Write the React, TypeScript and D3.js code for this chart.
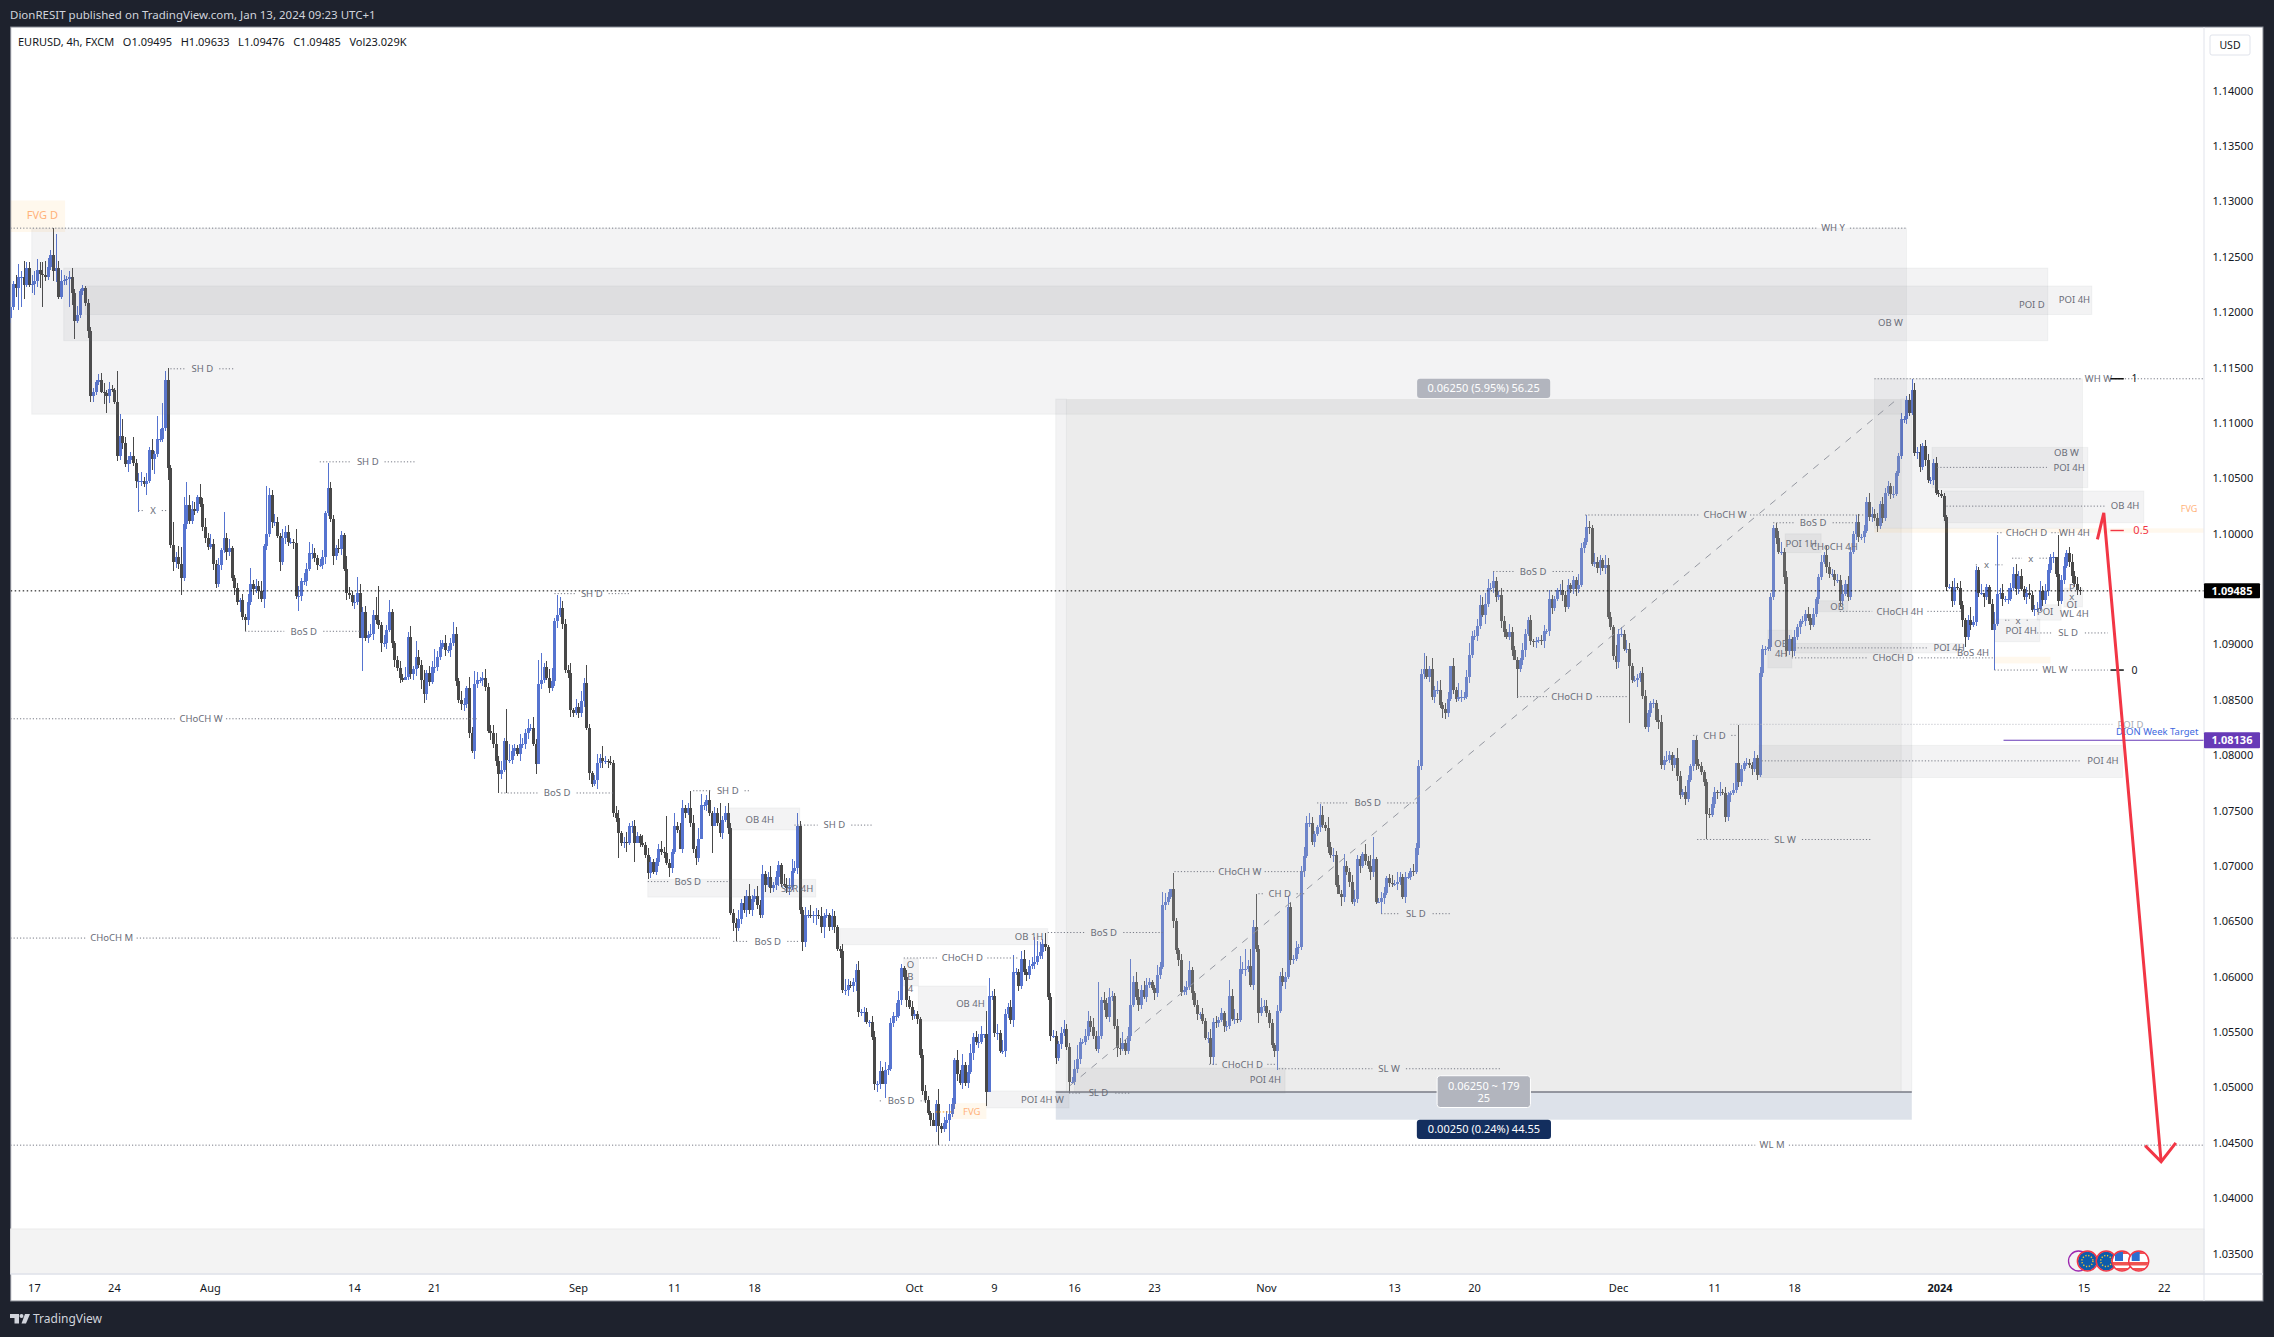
import * as d3 from "d3";

// all prices are pips above 1.0000 (1.0948 -> 948), one value per 4h bar
const closesJul = [1205,1226,1222,1232,1232,1225,1240,1225,1226,1228,1238,1235,1234,1232,1241,1252,1237,1240,1214,1228,1229,1230,1232,1217,1192,1198,1219,1222,1208,1183,1124,1128,1137,1139,1128,1127,1124,1131,1130,1119,1070,1088,1082,1063,1067,1070,1064,1048,1048,1048,1045,1048,1076,1068,1072,1086,1086,1096,1139,1059,990,975,979,973,960,1009,1026,1012,1022,1021,1033,1027,1006,996,988];
const closesAug = [991,973,955,972,985,996,984,987,960,951,938,940,925,922,938,955,950,953,948,941,989,1000,1035,1011,1011,998,975,996,1002,993,993,992,944,944,957,957,968,983,983,978,972,972,979,1019,1041,1013,980,987,986,999,968,947,945,938,938,947,906,929,906,909,910,927,922,918,901,901,913,929,901,886,879,870,868,871,907,873,878,889,882,868,855,874,866,880,880,889,898,901,895,895,901,910,867,850,846,846,861,820,804,864,868,868,870,862,822,820,810,795,783,787,813,796,796,804,807,801,810,810,820,825,825,810,792,864,868,880,870,861,867,921,927,933,919,877,874,841,838,844];
const closesSep = [838,849,865,825,784,774,778,793,798,795,795,794,793,748,743,730,721,722,721,736,736,721,727,721,719,710,694,704,695,704,715,713,712,703,698,713,736,733,715,752,748,752,739,715,707,724,755,755,760,748,736,748,739,730,742,748,734,658,649,644,652,667,660,673,660,670,673,665,656,693,683,690,680,683,690,701,684,683,680,681,696,698,736,660,631,656,656,655,656,656,655,645,655,656,645,655,645,625,623,588,588,593,592,595,606,568,568,568,559,559,546,503,503,515,503,516,517,558,565,565,579,608,600,579,573,565];
const closesOct = [566,562,529,497,489,477,471,465,485,465,463,468,471,476,485,525,512,504,520,504,514,531,546,541,541,548,548,496,583,583,549,549,533,533,566,573,561,604,604,592,616,604,602,610,612,613,619,622,630,627,582,547,547,527,539,549,553,537,505,505,517,526,541,541,547,560,555,547,535,547,579,576,564,582,583,556,536,535,540,533,547,575,595,582,575,588,582,593,595,590,585,602,609,665,668,672,679,650,624,615,586,588,591,606,585,575,566,566,560,545,545,528,559,558,561,567,556,556,583,562,562,561,607,607,607,610,593,645,625,567,573,574];
const closesNov = [567,558,538,533,569,601,595,600,663,615,616,626,627,696,709,739,739,722,729,735,746,737,734,717,710,710,683,675,672,700,695,686,668,670,706,700,711,705,700,695,706,668,668,671,676,689,685,684,684,686,690,672,690,690,696,695,716,790,873,878,871,878,853,859,859,845,842,838,851,881,859,851,853,853,853,871,891,908,908,917,936,927,937,951,951,957,943,945,921,911,907,911,895,886,878,886,895,910,922,903,902,903,904,903,912,912,941,933,941,949,949,945,934,954,950,958,950,954,987,993,1006,1005,973,975,969,976,969,972,925,916,890,884];
const closesDec = [910,910,896,896,881,868,868,870,874,854,826,838,847,847,832,830,791,796,796,800,791,798,781,764,767,761,778,790,814,792,790,785,776,747,746,756,767,766,767,766,744,764,766,769,793,776,788,793,793,791,788,798,782,874,896,896,898,943,1005,996,984,984,961,894,905,894,907,916,921,921,928,924,918,928,941,961,975,981,970,964,964,958,958,939,946,955,943,984,1000,1011,997,997,1003,1029,1015,1018,1014,1007,1027,1014,1037,1043,1036,1036,1055,1070,1104,1104,1121,1109,1130,1073,1074,1060,1079,1067,1049,1049,1064,1037,1036];
const closesJan = [1034,1015,952,952,939,952,951,936,922,907,922,918,920,967,947,947,943,952,937,913,919,946,947,941,941,941,951,964,950,962,950,943,947,945,931,932,932,948,940,948,967,979,979,964,939,958,971,983,975,962,955,949,948.5];

const wickUpJul = [5,2,8,12,5,14,5,5,8,9,10,7,10,12,8,4,0,0,6,10,5,3,5,8,4,8,2,3,2,4,4,4,2,5,6,8,3,6,3,2,28,20,16,5,3,4,17,4,7,8,3,7,2,10,3,20,9,22,8,0,3,21,5,10,15,24,21,9,8,7,2,12,5,8,5];
const wickUpAug = [9,4,3,6,2,22,5,8,2,3,5,2,6,3,8,14,3,6,4,9,2,10,6,5,7,4,3,8,5,6,3,2,12,9,3,8,6,10,8,4,3,5,6,2,0,6,4,3,8,4,2,12,5,3,7,14,8,5,6,3,9,4,16,7,2,8,5,11,3,2,4,6,3,9,4,10,3,14,6,4,9,3,7,5,16,5,6,3,8,4,5,10,6,3,8,6,2,10,6,12,7,3,5,8,3,5,7,10,4,8,3,6,14,5,3,2,9,6,4,8,3,10,5,22,4,3,5,8,12,3,0,10,6,4,5,9,2,7];
const wickUpSep = [3,9,5,6,3,2,4,8,3,10,4,2,5,3,6,8,2,4,9,3,5,6,4,2,7,3,6,4,2,3,5,8,4,6,3,2,12,4,6,8,3,5,2,7,3,10,6,3,4,9,2,5,4,18,3,6,9,5,3,4,8,3,6,5,11,4,6,9,4,8,3,5,10,3,6,4,2,9,6,8,10,7,12,5,3,7,4,9,3,6,4,8,3,5,2,6,4,2,3,7,10,5,3,4,6,8,3,5,4,2,6,5,3,9,4,7,3,5,3,11,8,4,2,6,4,5];
const wickUpOct = [4,3,2,6,5,3,2,6,4,14,3,5,8,9,6,2,9,4,10,3,6,8,3,5,7,8,0,0,0,4,6,8,3,10,5,3,6,16,4,3,7,8,3,5,6,5,13,9,4,0,2,3,5,4,3,6,8,4,3,5,8,12,4,3,6,9,5,8,4,18,3,7,5,8,4,2,6,9,10,3,8,14,6,9,7,5,8,6,4,2,3,9,4,12,8,5,0,5,3,2,6,4,5,8,3,2,4,2,6,3,5,8,4,6,3,5,2,4,10,6,9,5,12,6,4,5,15,6,2,4,8,5];
const wickUpNov = [5,3,4,2,6,3,7,4,10,5,4,6,3,4,8,6,9,5,3,2,0,8,3,10,5,6,4,9,3,11,5,3,6,8,4,3,2,9,4,10,3,2,3,6,5,2,4,7,3,9,5,3,5,4,2,6,5,6,5,14,12,3,10,4,8,9,3,5,6,0,7,3,12,6,4,6,10,4,5,6,9,7,10,8,5,0,4,3,6,5,3,8,5,4,3,2,6,4,3,5,2,4,3,5,6,2,8,4,3,2,6,9,3,5,2,4,3,10,5,3,0,6,3,8,4,5,2,9,6,4,2,10];
const wickUpDec = [4,6,3,8,5,2,4,3,2,6,5,3,2,4,3,10,6,3,8,4,3,2,9,5,3,5,4,2,0,3,5,4,2,3,5,6,4,2,9,3,5,3,2,6,0,4,3,2,5,4,3,6,2,6,4,3,7,4,3,5,7,9,3,5,4,2,6,3,2,5,3,6,4,5,2,3,6,3,8,5,4,3,6,5,8,3,7,4,3,6,7,3,5,4,8,6,4,5,3,6,4,5,3,7,2,3,5,2,3,5,0,6,4,7,3,6,5,2,4,5,3];
const wickUpJan = [4,3,2,3,5,8,4,6,3,2,5,12,6,4,3,8,0,3,2,4,10,0,4,8,3,10,5,6,9,4,6,3,5,8,3,4,6,9,5,7,6,3,5,0,3,5,8,2,5,7,4,6,3];

const wickDnJul = [5,3,8,20,27,13,2,2,8,10,5,13,29,4,3,3,9,10,2,2,3,4,25,10,16,2,3,3,2,6,5,5,3,3,1,10,15,6,2,2,4,3,5,3,7,4,3,7,0,5,3,10,2,10,14,3,3,3,3,10,3,9,6,5,15,3,5,3,3,4,2,3,3,4,3];
const wickDnAug = [2,6,4,3,5,2,8,4,3,6,2,9,3,0,4,2,5,3,7,3,8,4,3,6,4,2,9,3,5,4,2,6,3,0,5,3,4,2,6,3,5,2,4,6,3,2,8,4,3,5,2,7,4,3,6,2,0,4,3,5,2,6,3,4,8,3,5,2,4,6,3,5,2,0,3,4,5,6,3,8,0,5,3,2,6,4,3,2,5,3,6,2,4,3,5,6,3,4,2,7,3,3,5,4,2,6,3,5,0,4,2,0,3,4,5,2,6,3,4,5,3,2,7,0,4,3,2,5,3,4,6,2,5,3,4,6,3,2];
const wickDnSep = [4,3,5,2,6,3,2,8,4,6,3,5,2,4,3,0,3,5,8,2,6,3,0,4,2,3,6,5,2,3,4,3,5,2,8,4,2,3,0,3,5,2,4,3,6,3,0,4,5,3,2,0,3,4,6,2,5,2,8,12,3,4,2,6,3,5,2,4,3,3,6,2,4,3,5,8,3,2,4,6,3,2,5,3,8,4,3,2,6,9,3,5,10,2,4,3,5,2,6,3,4,5,2,6,8,4,3,9,2,4,3,5,0,4,0,3,5,2,3,5,2,4,3,6,2,4];
const wickDnOct = [3,5,2,4,3,2,6,0,5,0,4,3,5,2,3,4,6,2,5,3,4,2,6,3,5,2,3,0,0,4,3,6,2,3,5,3,4,6,2,5,3,2,6,4,3,5,2,3,6,4,3,5,2,6,3,4,2,3,5,0,3,4,5,2,3,4,5,3,2,4,3,6,2,5,4,3,8,6,2,4,3,5,2,3,6,4,2,5,3,2,6,3,4,2,5,3,2,6,3,5,3,2,4,3,6,2,5,4,3,2,5,0,0,4,3,2,6,5,3,2,5,3,2,4,6,3,2,5,3,6,2,4];
const wickDnNov = [3,4,2,5,0,2,3,6,2,4,3,2,5,3,6,2,4,3,5,2,4,3,2,5,3,6,2,0,8,4,3,5,2,4,3,6,2,4,3,8,5,2,0,3,5,2,4,3,2,6,3,2,5,2,3,4,2,6,3,4,2,5,3,6,4,2,8,5,3,2,4,3,2,5,3,2,6,3,4,5,3,2,8,3,2,4,5,3,6,4,2,3,5,0,0,3,4,6,2,3,4,5,2,3,6,2,4,5,3,2,4,6,5,2,3,4,6,3,2,4,3,5,2,3,4,6,3,5,2,3,4,6];
const wickDnDec = [5,3,2,4,0,3,2,6,4,3,2,5,3,4,2,6,3,4,2,3,5,2,4,3,2,6,3,2,4,5,2,3,4,0,3,2,4,5,3,2,4,3,6,2,3,5,4,2,3,2,6,3,4,2,3,5,2,4,3,5,2,3,6,4,3,5,4,3,6,2,4,3,5,2,3,4,3,2,5,4,3,5,2,4,3,2,4,3,2,6,4,3,5,2,3,4,2,5,3,4,2,3,5,4,2,3,2,4,5,3,2,3,5,4,2,6,3,4,5,2,3];
const wickDnJan = [2,3,4,2,5,3,2,4,6,0,3,5,2,3,4,2,6,3,0,0,3,2,5,6,3,4,2,3,5,4,2,3,6,4,2,5,3,2,5,3,4,2,5,3,4,2,3,2,5,6,3,4,4];

// tall wicks that stand out in the picture: [bar, price]
const longHighs = [[16,1276],[17,1271],[59,1150],[65,1033],[66,1047],[80,1020],[96,1043],[119,1064],[138,953],[186,842],[199,892],[205,945],[216,882],[246,745],[252,760],[255,768],[259,765],[366,569],[367,599],[384,636],[388,640],[408,595],[420,616],[436,694],[457,597],[463,625],[467,675],[491,756],[511,726],[556,966],[591,1017],[648,827],[713,1140],[745,999],[768,999]];
const longLows = [[48,1020],[64,945],[88,912],[108,930],[132,876],[155,847],[183,766],[186,766],[197,783],[228,707],[234,704],[263,712],[272,632],[325,496],[328,491],[348,448],[352,452],[366,483],[397,495],[450,521],[451,520],[468,558],[475,516],[514,657],[565,852],[607,829],[636,724],[733,898],[740,934],[744,877]];

const tickPrices = [1.14,1.135,1.13,1.125,1.12,1.115,1.11,1.105,1.1,1.095,1.09,1.085,1.08,1.075,1.07,1.065,1.06,1.055,1.05,1.045,1.04,1.035];
const timeTicks: [string, number, boolean][] = [["17",9,false],["24",39,false],["Aug",75,false],["14",129,false],["21",159,false],["Sep",213,false],["11",249,false],["18",279,false],["Oct",339,false],["9",369,false],["16",399,false],["23",429,false],["Nov",471,false],["13",519,false],["20",549,false],["Dec",603,false],["11",639,false],["18",669,false],["2024",723.6,true],["15",777.6,false],["22",807.7,false]];

// [bar from, bar to, price top, price bottom, tone]
const zones: [number, number, number, number, string][] = [
  [0,20.5,1301,1272.5,"orange"],[8,711,1276,1108,"light"],[20,764,1240,1174.4,"light"],[28,780.5,1223.8,1198,"light"],
  [396,709,1121.7,496,"range"],[392,396,1121.7,496,"light"],[709,713,1121.7,496,"light"],[392,713,496,471,"blue"],
  [269,296,752.5,732.6,"light"],[239,302,688,672,"light"],[311,389,643.5,629,"light"],[335,340.5,616.4,591.7,"light"],[340.5,366,591.7,560,"light"],
  [353,366,486,471.6,"orange"],[366,397,497,481.6,"light"],[399,478,517.7,495,"light"],[655.7,792,809,780,"light"],
  [677.5,689,939.6,929.7,"light"],[665.5,679,1000,983,"light"],[659,668,913,879,"light"],[669,732.5,901,892.4,"light"],
  [720.6,779,1078,1041.7,"light"],[725,800,1038.7,1010,"light"],[699,777,1140,1005,"light"],[699,822.5,1005,1001,"orange"],
  [744,761,923,902.6,"light"],[760,769,936,922,"light"],[770,777,951,934,"light"],[744,765,889,883,"orange"],
];

// [label, bar from, bar to, price, bar of the label]
const levels: [string, number, number, number, number][] = [
  ["WH Y",0,711,1276,683.5],["WL M",0,822.5,448,660.6],["CHoCH W",0,175,833,71.5],["CHoCH M",0,266,635,38],
  ["SH D",60,84,1149,72],["SH D",116,152,1065,134],["X",48,59,1021,53.5],["BoS D",88,131,912,110],["SH D",204,232,946,218],
  ["BoS D",184,226,766,205],["SH D",256,277,768,269],["SH D",294,323,737,309],["BoS D",239,269,686,254],["BoS D",271,296,632,284],
  ["BoS D",389,432,640,410],["CHoCH D",335,378,617,357],["BoS D",326,343,488,334],["SL D",397,420,495,408],["CHoCH D",449.5,475,521,462],
  ["SL W",475.6,559,517,517],["CHoCH W",436.5,485.5,695,461],["CH D",468,485.5,675,476],["BoS D",490,527.5,757,509],["SL D",514,540,657,527],
  ["BoS D",556,586,966,571],["CHoCH D",565,606.5,853,585.5],["CHoCH W",590.5,695.5,1017,643],["BoS D",661,692,1010,676],["CH D",631,647,818,639],
  ["SL W",632.5,698,724,665.5],["CHoCH 4H",686,731.5,930,708.5],["POI 4H",669,720,897,727],["CHoCH D",668,744,888,706],["POI 4H",722.5,764,1060,772],
  ["OB 4H",726,787,1025,793],["WH W",699,822.5,1140,783],["CHoCH D",745,768,1001,756],["x",737,747,972,741],["x",750.6,765,978,757.6],["x",748,757,922,752.8],
  ["SL D",760,786.5,910.5,771.6],["WL W",744,786.5,877,766.7],["POI 4H",656.7,778,795,784.7],
];

// [label, bar, price]
const notes: [string, number, number][] = [
  ["OB 4H",281,742],["SBR 4H",295,680],["OB 1H",382,636],["O",337.5,611],["B",337.5,600],["4",337.5,589],["OB 4H",360,576],["POI 4H W",387,489],["POI 4H",470.6,507],
  ["POI D",758,1207],["POI 4H",774,1211],["OB W",705,1191],["OB W",771,1073],["OB",685,934],["POI 1H",671.5,991],["OB",664,900.5],["4H",664,891.5],
  ["CHoCH 4H",684,988],["BoS 4H",736,893],["WH 4H",774,1001],["WL 4H",774,928],["POI",763,930],["POI 4H",754,913],["P",773,951],["x",773,943],["OI",773,936],
];

const measureLabels: [string, string, number, number, number, number, string][] = [
  ["0.06250 (5.95%) 56.25","",527.5,577.4,1140,1122.6,"#b2b5be"],
  ["0.06250 ~ 179","25",535,570,510.7,482,"#b2b5be"],
  ["0.00250 (0.24%) 44.55","",527.4,577.7,471,453.6,"#132e5e"],
];

const trendLine: [number, number][] = [[397.3,501.7],[708,1122.6]];
const redArrow: [number, number][] = [[782.6,995],[785,1019],[806.5,433]];
const redHead: [number, number][] = [[800.5,447.6],[806.5,433],[812,450]];
const eventIcons: [number, string][] = [[2078.5,"moon"],[2087.4,"eu"],[2106.2,"eu"],[2122,"us"],[2138.7,"us"]];

const W = 2274;
const H = 1337;
const left = 10.7;
const top = 27;
const axisX = 2204;
const rightEdge = 2263;
const timeY = 1274;
const bottom = 1301;
const font = '"Noto Sans", sans-serif';

const closes = [...closesJul, ...closesAug, ...closesSep, ...closesOct, ...closesNov, ...closesDec, ...closesJan];
const wickUp = [...wickUpJul, ...wickUpAug, ...wickUpSep, ...wickUpOct, ...wickUpNov, ...wickUpDec, ...wickUpJan];
const wickDn = [...wickDnJul, ...wickDnAug, ...wickDnSep, ...wickDnOct, ...wickDnNov, ...wickDnDec, ...wickDnJan];
const highMap = new Map(longHighs.map((d) => [d[0], d[1]]));
const lowMap = new Map(longLows.map((d) => [d[0], d[1]]));

const candles = closes.map((c, i) => {
  const o = i > 0 ? closes[i - 1] : 1195;
  const high = highMap.get(i) ?? Math.max(o, c) + (wickUp[i] ?? 0);
  const low = lowMap.get(i) ?? Math.min(o, c) - (wickDn[i] ?? 0);
  return { i, o, c, high: Math.max(high, o, c), low: Math.min(low, o, c) };
});

const x = d3.scaleLinear().domain([0, 776]).range([10.4, 2079.8]);
const yPrice = d3.scaleLinear().domain([1.115, 1.035]).range([367.7, 1253.7]);
const y = (pip: number) => yPrice(1 + pip / 10000);
const pathLine = d3.line<[number, number]>().x((d) => x(d[0])).y((d) => y(d[1]));

const zoneStyle: Record<string, { fill: string; stroke: string }> = {
  light: { fill: "rgba(120,123,134,0.09)", stroke: "rgba(120,123,134,0.07)" },
  orange: { fill: "rgba(255,152,0,0.07)", stroke: "none" },
  range: { fill: "rgba(178,178,178,0.25)", stroke: "none" },
  blue: { fill: "rgba(41,72,122,0.16)", stroke: "none" },
};

function Label({ t, px, py, fill = "#6a6d78", size = 9.5 }: { t: string; px: number; py: number; fill?: string; size?: number }) {
  return (
    <text x={px} y={py} dy="0.35em" textAnchor="middle" fontSize={size} fontFamily={font} fill={fill}>
      {t}
    </text>
  );
}

function Flag({ cx, kind, id }: { cx: number; kind: string; id: string }) {
  const cy = 1261;
  if (kind === "moon") {
    return <circle cx={cx} cy={cy} r={10} fill="none" stroke="#9c27b0" strokeWidth={1.3} />;
  }
  return (
    <g>
      <clipPath id={id}>
        <circle cx={cx} cy={cy} r={9.5} />
      </clipPath>
      {kind === "eu" ? (
        <g>
          <circle cx={cx} cy={cy} r={9.5} fill="#0d5cab" />
          <circle cx={cx} cy={cy} r={5.5} fill="none" stroke="#f7c62f" strokeWidth={1.4} strokeDasharray="1.2 1.7" />
        </g>
      ) : (
        <g clipPath={`url(#${id})`}>
          <rect x={cx - 10} y={cy - 10} width={20} height={20} fill="#fff" />
          <rect x={cx - 10} y={cy + 1} width={20} height={3.5} fill="#f0524f" />
          <rect x={cx - 10} y={cy + 7} width={20} height={3.5} fill="#f0524f" />
          <rect x={cx - 10} y={cy - 10} width={20} height={3} fill="#f0524f" />
          <rect x={cx - 7} y={cy - 10} width={8} height={10} fill="#2a6fd0" />
        </g>
      )}
      <circle cx={cx} cy={cy} r={10} fill="none" stroke="#f23645" strokeWidth={1.5} />
    </g>
  );
}

export default function App() {
  return (
    <svg width={W} height={H} viewBox={`0 0 ${W} ${H}`} style={{ position: "absolute", left: 0, top: 0, display: "block" }}>
      <rect width={W} height={H} fill="#1e222d" />
      <text x={10} y={15} dy="0.35em" fontSize={11.5} fontFamily={font} fill="#d1d4dc">
        DionRESIT published on TradingView.com, Jan 13, 2024 09:23 UTC+1
      </text>
      <rect x={left} y={top} width={rightEdge - left} height={bottom - top} fill="#fff" stroke="#868993" />
      <clipPath id="plot">
        <rect x={left} y={top} width={axisX - left} height={timeY - top} />
      </clipPath>
      <rect x={left} y={1229} width={axisX - left} height={timeY - 1229} fill="#f3f3f3" stroke="#ebebeb" />

      <g clipPath="url(#plot)">
        <g shapeRendering="crispEdges">
          {candles.map((d) => {
            const up = d.c >= d.o;
            const col = up ? "#5674d0" : "#484848";
            const yt = y(Math.max(d.o, d.c));
            const yb = y(Math.min(d.o, d.c));
            const cx = Math.round(x(d.i));
            return (
              <g key={d.i} fill={col}>
                <rect x={cx} y={y(d.high)} width={1} height={Math.max(1, y(d.low) - y(d.high))} />
                <rect x={cx - 1} y={yt} width={3} height={Math.max(1, yb - yt)} />
              </g>
            );
          })}
        </g>

        {zones.map((z, i) => (
          <rect
            key={i}
            x={x(z[0])}
            y={y(z[2])}
            width={x(z[1]) - x(z[0])}
            height={y(z[3]) - y(z[2])}
            fill={zoneStyle[z[4]].fill}
            stroke={zoneStyle[z[4]].stroke}
          />
        ))}
        <line x1={x(392)} x2={x(713)} y1={y(496)} y2={y(496)} stroke="#787b86" strokeWidth={1.5} />
        <path d={pathLine(trendLine) || ""} fill="none" stroke="#9598a1" strokeWidth={1} strokeDasharray="7 7" />

        <line x1={left} x2={axisX} y1={y(948.5)} y2={y(948.5)} stroke="#000" strokeDasharray="1.5 2.5" />
        <line x1={x(645)} x2={x(789)} y1={y(828)} y2={y(828)} stroke="#b2b5be" strokeDasharray="1 2" />
        <line x1={x(747.4)} x2={axisX} y1={y(813.6)} y2={y(813.6)} stroke="#673ab7" strokeWidth={1.2} />

        {levels.map((l, i) => {
          const lx = x(l[4]);
          const gap = l[0].length * 2.7 + 6;
          const x0 = x(l[1]);
          const x1 = x(l[2]);
          const py = y(l[3]);
          return (
            <g key={i}>
              <line x1={x0} x2={Math.min(x1, lx - gap)} y1={py} y2={py} stroke="#787b86" strokeDasharray="1.2 2" />
              {lx + gap < x1 && <line x1={lx + gap} x2={x1} y1={py} y2={py} stroke="#787b86" strokeDasharray="1.2 2" />}
              <Label t={l[0]} px={lx} py={py} />
            </g>
          );
        })}
        {notes.map((n, i) => (
          <Label key={i} t={n[0]} px={x(n[1])} py={y(n[2])} />
        ))}

        <Label t="FVG D" px={x(12)} py={y(1288)} fill="#ffb27a" size={11} />
        <Label t="FVG" px={x(360.5)} py={y(478)} fill="#ffb27a" />
        <Label t="FVG" px={x(817)} py={y(1023)} fill="#ffb27a" size={9} />
        <line x1={x(347)} x2={x(353)} y1={y(478)} y2={y(478)} stroke="#ff9800" strokeDasharray="1.5 2" />
        <Label t="POI D" px={x(795)} py={y(828)} fill="#a8abb4" />
        <Label t="DION Week Target" px={x(805)} py={y(821)} fill="#3d68e0" />

        <line x1={x(787.5)} x2={x(792.5)} y1={y(1140)} y2={y(1140)} stroke="#000" strokeWidth={1.4} />
        <line x1={x(787.5)} x2={x(792.5)} y1={y(877)} y2={y(877)} stroke="#000" strokeWidth={1.4} />
        <line x1={x(787.5)} x2={x(792.5)} y1={y(1003)} y2={y(1003)} stroke="#f23645" strokeWidth={1.4} />
        <Label t="1" px={x(796.5)} py={y(1140)} fill="#131722" size={10.5} />
        <Label t="0" px={x(796.5)} py={y(877)} fill="#131722" size={10.5} />
        <Label t="0.5" px={x(799)} py={y(1003)} fill="#f23645" size={11} />

        <path d={pathLine(redArrow) || ""} fill="none" stroke="#f23645" strokeWidth={3} strokeLinejoin="miter" />
        <path d={pathLine(redHead) || ""} fill="none" stroke="#f23645" strokeWidth={3} strokeLinejoin="miter" />

        {measureLabels.map((m, i) => (
          <g key={i}>
            <rect
              x={x(m[2])}
              y={y(m[4])}
              width={x(m[3]) - x(m[2])}
              height={y(m[5]) - y(m[4])}
              rx={3}
              fill={m[6]}
              stroke={m[1] ? "#fff" : "none"}
            />
            <text
              x={(x(m[2]) + x(m[3])) / 2}
              y={m[1] ? y(m[4]) + 10 : (y(m[4]) + y(m[5])) / 2}
              dy="0.35em"
              textAnchor="middle"
              fontSize={11}
              fontFamily={font}
              fill="#fff"
            >
              {m[0]}
            </text>
            {m[1] && (
              <text x={(x(m[2]) + x(m[3])) / 2} y={y(m[4]) + 22} dy="0.35em" textAnchor="middle" fontSize={11} fontFamily={font} fill="#fff">
                {m[1]}
              </text>
            )}
          </g>
        ))}

        {eventIcons.map((e, i) => (
          <Flag key={i} cx={e[0]} kind={e[1]} id={`flag${i}`} />
        ))}
      </g>

      <line x1={left} x2={rightEdge} y1={timeY} y2={timeY} stroke="#e0e3eb" strokeWidth={1.5} />
      <line x1={axisX} x2={axisX} y1={top} y2={bottom} stroke="#e0e3eb" />

      <text x={18} y={42} dy="0.35em" fontSize={11} fontFamily={font} fill="#131722" xmlSpace="preserve">
        {"EURUSD, 4h, FXCM   O1.09495   H1.09633   L1.09476   C1.09485   Vol23.029K"}
      </text>

      <rect x={2210} y={35} width={40} height={20} rx={2} fill="#fff" stroke="#e0e3eb" />
      <Label t="USD" px={2230} py={45} fill="#131722" size={10.5} />

      {tickPrices.map((p) => (
        <text key={p} x={2212.5} y={yPrice(p)} dy="0.35em" fontSize={11} fontFamily={font} fill="#131722">
          {p.toFixed(5)}
        </text>
      ))}

      <rect x={axisX} y={y(948.5) - 7.5} width={56} height={15} rx={1} fill="#000" />
      <text x={2232} y={y(948.5)} dy="0.35em" textAnchor="middle" fontSize={11} fontWeight={700} fontFamily={font} fill="#fff">
        1.09485
      </text>
      <rect x={axisX} y={y(813.6) - 8} width={56} height={16} rx={1} fill="#673ab7" />
      <text x={2232} y={y(813.6)} dy="0.35em" textAnchor="middle" fontSize={11} fontWeight={700} fontFamily={font} fill="#fff">
        1.08136
      </text>

      {timeTicks.map((t, i) => (
        <text
          key={i}
          x={x(t[1])}
          y={1287.7}
          dy="0.35em"
          textAnchor="middle"
          fontSize={11}
          fontWeight={t[2] ? 700 : 400}
          fontFamily={font}
          fill="#131722"
        >
          {t[0]}
        </text>
      ))}

      <g fill="#d1d4dc">
        <path d="M10 1314h9v9.5h-4.5v-5.5h-4.5z" />
        <circle cx={21.5} cy={1316} r={2} />
        <path d="M25 1314h5l-4 9.5h-4.5z" />
      </g>
      <text x={33} y={1319} dy="0.35em" fontSize={12} fontFamily={font} fill="#d1d4dc">
        TradingView
      </text>
    </svg>
  );
}
